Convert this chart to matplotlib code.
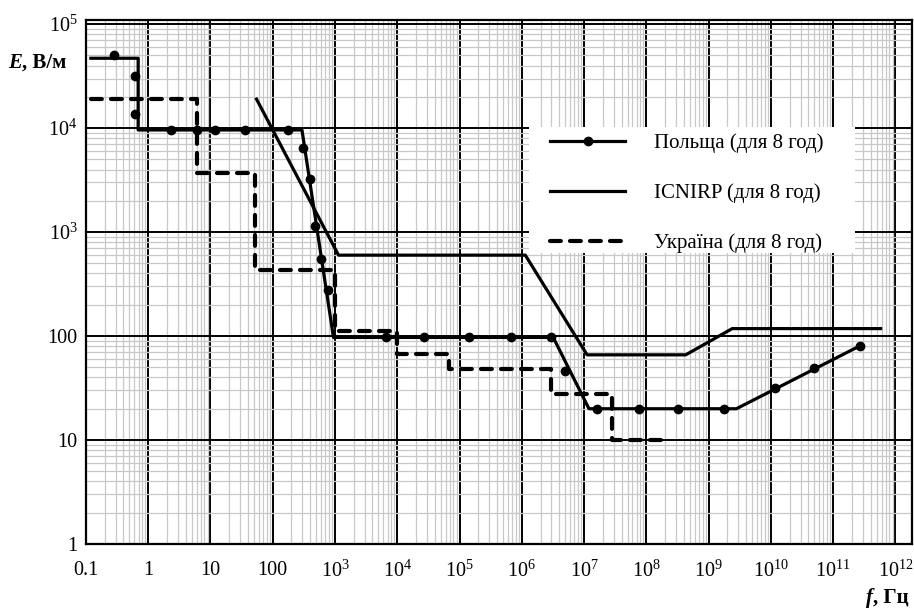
import matplotlib
matplotlib.use('Agg')
import matplotlib.pyplot as plt
from matplotlib.lines import Line2D
from matplotlib.patches import Rectangle
from matplotlib.ticker import LogLocator, NullFormatter

plt.rcParams['font.family'] = ['Liberation Serif', 'DejaVu Serif']
plt.rcParams['mathtext.fontset'] = 'custom'
plt.rcParams['mathtext.rm'] = 'Liberation Serif'
plt.rcParams['mathtext.it'] = 'Liberation Serif:italic'
plt.rcParams['mathtext.bf'] = 'Liberation Serif:bold'

# Польща: line vertices and measured points
pl_line_f = [0.12, 0.69, 0.69, 295, 946, 3.2e6, 1.2e7, 2.8e9, 2.75e11]
pl_line_E = [4.7e4, 4.7e4, 9600, 9600, 97, 97, 20, 20, 81]
pl_dot_f = [0.28, 0.62, 0.62, 2.3, 6, 11.8, 36, 178, 309, 398, 479, 603, 759,
            6.5e3, 2.7e4, 1.4e5, 6.6e5, 2.95e6, 4.9e6,
            1.6e7, 7.6e7, 3.2e8, 1.8e9, 1.17e10, 4.9e10, 2.75e11]
pl_dot_E = [5e4, 3.2e4, 1.38e4, 9600, 9600, 9600, 9600, 9600, 6500, 3240, 1150, 550, 275,
            97, 97, 97, 97, 97, 46,
            20, 20, 20, 20, 32, 49, 81]

# ICNIRP
ic_f = [55, 1140, 1.14e6, 1.12e7, 4.3e8, 2.4e9, 5.8e11]
ic_E = [1.9e4, 600, 600, 66, 66, 118, 118]

# Україна (step levels)
ua_f = [0.12, 6, 52, 1000, 9800, 6.8e4, 2.9e6, 2.8e7, 2.3e8]
ua_E = [1.9e4, 3.7e3, 430, 112, 67, 48, 28, 10, 10]

x_ticks = [10.0 ** k for k in range(-1, 13)]
x_labels = ['0.1', '1', '10', '100'] + [r'$10^{%d}$' % k for k in range(3, 13)]
y_ticks = [10.0 ** k for k in range(0, 6)]
y_labels = ['1', '10', '100', r'$10^{3}$', r'$10^{4}$', r'$10^{5}$']

fig = plt.figure(figsize=(9.14, 6.1), dpi=100)
ax = fig.add_axes([0.094, 0.1082, 0.904, 0.859])
ax.set_xscale('log')
ax.set_yscale('log')
ax.set_xlim(0.1, 10 ** 12.27)
ax.set_ylim(1, 10 ** 5.04)

ax.xaxis.set_minor_locator(LogLocator(base=10, subs=range(2, 10), numticks=50))
ax.yaxis.set_minor_locator(LogLocator(base=10, subs=range(2, 10), numticks=50))
ax.xaxis.set_minor_formatter(NullFormatter())
ax.yaxis.set_minor_formatter(NullFormatter())
ax.set_xticks(x_ticks)
ax.set_xticklabels(x_labels, fontsize=14.5)
ax.set_yticks(y_ticks)
ax.set_yticklabels(y_labels, fontsize=14.5)
ax.tick_params(which='both', length=0)
ax.tick_params(axis='x', pad=12)
ax.tick_params(axis='y', pad=6)

ax.set_axisbelow(True)
ax.grid(which='minor', color='#c8c8c8', linewidth=0.9)
ax.grid(which='major', color='black', linewidth=1.4)
for s in ax.spines.values():
    s.set_linewidth(1.6)

# white legend area
ax.add_patch(Rectangle((0.536, 0.555), 0.395, 0.241, transform=ax.transAxes,
                       facecolor='white', edgecolor='none', zorder=1.5))

ax.plot(pl_line_f, pl_line_E, color='black', lw=2.3, zorder=3)
ax.plot(pl_dot_f, pl_dot_E, 'o', color='black', ms=6, zorder=4)
ax.plot(ic_f, ic_E, color='black', lw=2.3, zorder=3)
ax.plot(ua_f, ua_E, color='black', lw=3, drawstyle='steps-post',
        dashes=(2.6, 2.2), dash_capstyle='round', zorder=3)

handles = [
    Line2D([], [], color='black', lw=2.3, marker='o', ms=6),
    Line2D([], [], color='black', lw=2.3),
    Line2D([], [], color='black', lw=3, dashes=(2.6, 2.2), dash_capstyle='round'),
]
labels = ['Польща (для 8 год)', 'ICNIRP (для 8 год)', 'Україна (для 8 год)']
ax.legend(handles, labels, loc='upper left', bbox_to_anchor=(0.562, 0.783),
          frameon=False, fontsize=15, borderpad=0, borderaxespad=0,
          handlelength=3.6, handletextpad=1.4, labelspacing=1.45, numpoints=1)

t1 = fig.text(0.009, 0.897, 'E', fontsize=15, fontweight='bold', style='italic',
              va='center')
ax.annotate(', В/м', xy=(1, 0), xycoords=t1, va='bottom', fontsize=15,
            fontweight='bold', annotation_clip=False)
t2 = fig.text(0.947, 0.020, 'f', fontsize=15, fontweight='bold', style='italic',
              va='center')
ax.annotate(', Гц', xy=(1, 0), xycoords=t2, va='bottom', fontsize=15,
            fontweight='bold', annotation_clip=False)

fig.savefig('out.png', dpi=100)
